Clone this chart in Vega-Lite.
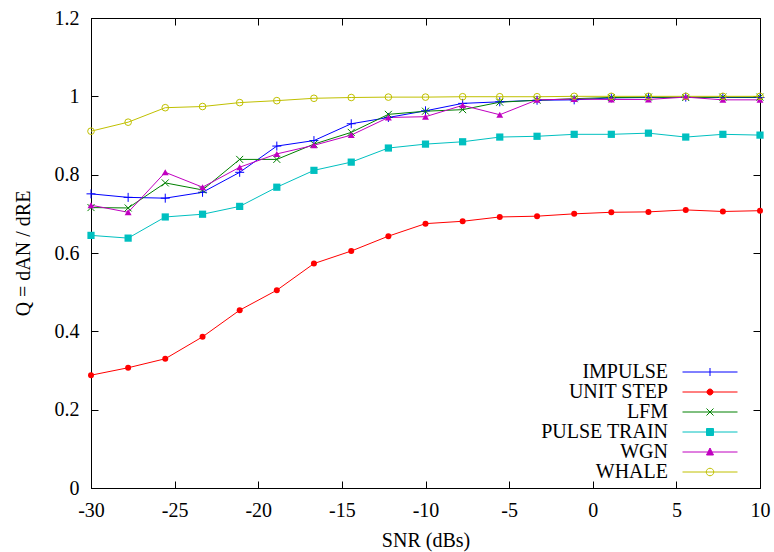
{
  "$schema": "https://vega.github.io/schema/vega-lite/v6.json",
  "width": 669,
  "height": 470,
  "autosize": {"type": "none"},
  "padding": {"left": 91, "top": 18, "right": 14, "bottom": 64},
  "background": "white",
  "config": {
    "font": "Liberation Serif",
    "view": {"stroke": "black", "strokeWidth": 1},
    "axis": {
      "grid": false,
      "domainColor": "black",
      "domainWidth": 1,
      "tickColor": "black",
      "tickWidth": 1,
      "tickSize": -7,
      "labelFlush": false,
      "labelColor": "black",
      "titleColor": "black",
      "labelFont": "Liberation Serif",
      "labelFontSize": 20,
      "titleFont": "Liberation Serif",
      "titleFontSize": 20,
      "titleFontWeight": "normal"
    },
    "legend": {
      "labelFont": "Liberation Serif",
      "labelFontSize": 20,
      "labelColor": "black"
    }
  },
  "data": {
    "values": [
      {"series": "IMPULSE", "snr": -30, "q": 0.751},
      {"series": "IMPULSE", "snr": -27.78, "q": 0.742},
      {"series": "IMPULSE", "snr": -25.56, "q": 0.740},
      {"series": "IMPULSE", "snr": -23.33, "q": 0.755},
      {"series": "IMPULSE", "snr": -21.11, "q": 0.806},
      {"series": "IMPULSE", "snr": -18.89, "q": 0.873},
      {"series": "IMPULSE", "snr": -16.67, "q": 0.887},
      {"series": "IMPULSE", "snr": -14.44, "q": 0.930},
      {"series": "IMPULSE", "snr": -12.22, "q": 0.946},
      {"series": "IMPULSE", "snr": -10, "q": 0.963},
      {"series": "IMPULSE", "snr": -7.78, "q": 0.982},
      {"series": "IMPULSE", "snr": -5.56, "q": 0.986},
      {"series": "IMPULSE", "snr": -3.33, "q": 0.990},
      {"series": "IMPULSE", "snr": -1.11, "q": 0.991},
      {"series": "IMPULSE", "snr": 1.11, "q": 0.996},
      {"series": "IMPULSE", "snr": 3.33, "q": 0.997},
      {"series": "IMPULSE", "snr": 5.56, "q": 0.998},
      {"series": "IMPULSE", "snr": 7.78, "q": 0.997},
      {"series": "IMPULSE", "snr": 10, "q": 0.997},

      {"series": "UNIT STEP", "snr": -30, "q": 0.288},
      {"series": "UNIT STEP", "snr": -27.78, "q": 0.307},
      {"series": "UNIT STEP", "snr": -25.56, "q": 0.330},
      {"series": "UNIT STEP", "snr": -23.33, "q": 0.386},
      {"series": "UNIT STEP", "snr": -21.11, "q": 0.454},
      {"series": "UNIT STEP", "snr": -18.89, "q": 0.505},
      {"series": "UNIT STEP", "snr": -16.67, "q": 0.573},
      {"series": "UNIT STEP", "snr": -14.44, "q": 0.605},
      {"series": "UNIT STEP", "snr": -12.22, "q": 0.643},
      {"series": "UNIT STEP", "snr": -10, "q": 0.675},
      {"series": "UNIT STEP", "snr": -7.78, "q": 0.681},
      {"series": "UNIT STEP", "snr": -5.56, "q": 0.692},
      {"series": "UNIT STEP", "snr": -3.33, "q": 0.694},
      {"series": "UNIT STEP", "snr": -1.11, "q": 0.700},
      {"series": "UNIT STEP", "snr": 1.11, "q": 0.704},
      {"series": "UNIT STEP", "snr": 3.33, "q": 0.705},
      {"series": "UNIT STEP", "snr": 5.56, "q": 0.710},
      {"series": "UNIT STEP", "snr": 7.78, "q": 0.706},
      {"series": "UNIT STEP", "snr": 10, "q": 0.708},

      {"series": "LFM", "snr": -30, "q": 0.716},
      {"series": "LFM", "snr": -27.78, "q": 0.715},
      {"series": "LFM", "snr": -25.56, "q": 0.779},
      {"series": "LFM", "snr": -23.33, "q": 0.761},
      {"series": "LFM", "snr": -21.11, "q": 0.839},
      {"series": "LFM", "snr": -18.89, "q": 0.839},
      {"series": "LFM", "snr": -16.67, "q": 0.878},
      {"series": "LFM", "snr": -14.44, "q": 0.908},
      {"series": "LFM", "snr": -12.22, "q": 0.954},
      {"series": "LFM", "snr": -10, "q": 0.962},
      {"series": "LFM", "snr": -7.78, "q": 0.966},
      {"series": "LFM", "snr": -5.56, "q": 0.985},
      {"series": "LFM", "snr": -3.33, "q": 0.990},
      {"series": "LFM", "snr": -1.11, "q": 0.994},
      {"series": "LFM", "snr": 1.11, "q": 0.997},
      {"series": "LFM", "snr": 3.33, "q": 0.998},
      {"series": "LFM", "snr": 5.56, "q": 0.997},
      {"series": "LFM", "snr": 7.78, "q": 0.998},
      {"series": "LFM", "snr": 10, "q": 0.998},

      {"series": "PULSE TRAIN", "snr": -30, "q": 0.645},
      {"series": "PULSE TRAIN", "snr": -27.78, "q": 0.638},
      {"series": "PULSE TRAIN", "snr": -25.56, "q": 0.692},
      {"series": "PULSE TRAIN", "snr": -23.33, "q": 0.699},
      {"series": "PULSE TRAIN", "snr": -21.11, "q": 0.719},
      {"series": "PULSE TRAIN", "snr": -18.89, "q": 0.768},
      {"series": "PULSE TRAIN", "snr": -16.67, "q": 0.811},
      {"series": "PULSE TRAIN", "snr": -14.44, "q": 0.832},
      {"series": "PULSE TRAIN", "snr": -12.22, "q": 0.868},
      {"series": "PULSE TRAIN", "snr": -10, "q": 0.878},
      {"series": "PULSE TRAIN", "snr": -7.78, "q": 0.884},
      {"series": "PULSE TRAIN", "snr": -5.56, "q": 0.896},
      {"series": "PULSE TRAIN", "snr": -3.33, "q": 0.898},
      {"series": "PULSE TRAIN", "snr": -1.11, "q": 0.903},
      {"series": "PULSE TRAIN", "snr": 1.11, "q": 0.903},
      {"series": "PULSE TRAIN", "snr": 3.33, "q": 0.906},
      {"series": "PULSE TRAIN", "snr": 5.56, "q": 0.896},
      {"series": "PULSE TRAIN", "snr": 7.78, "q": 0.903},
      {"series": "PULSE TRAIN", "snr": 10, "q": 0.901},

      {"series": "WGN", "snr": -30, "q": 0.722},
      {"series": "WGN", "snr": -27.78, "q": 0.704},
      {"series": "WGN", "snr": -25.56, "q": 0.806},
      {"series": "WGN", "snr": -23.33, "q": 0.768},
      {"series": "WGN", "snr": -21.11, "q": 0.819},
      {"series": "WGN", "snr": -18.89, "q": 0.853},
      {"series": "WGN", "snr": -16.67, "q": 0.875},
      {"series": "WGN", "snr": -14.44, "q": 0.901},
      {"series": "WGN", "snr": -12.22, "q": 0.946},
      {"series": "WGN", "snr": -10, "q": 0.948},
      {"series": "WGN", "snr": -7.78, "q": 0.977},
      {"series": "WGN", "snr": -5.56, "q": 0.953},
      {"series": "WGN", "snr": -3.33, "q": 0.991},
      {"series": "WGN", "snr": -1.11, "q": 0.993},
      {"series": "WGN", "snr": 1.11, "q": 0.992},
      {"series": "WGN", "snr": 3.33, "q": 0.992},
      {"series": "WGN", "snr": 5.56, "q": 0.998},
      {"series": "WGN", "snr": 7.78, "q": 0.991},
      {"series": "WGN", "snr": 10, "q": 0.991},

      {"series": "WHALE", "snr": -30, "q": 0.911},
      {"series": "WHALE", "snr": -27.78, "q": 0.934},
      {"series": "WHALE", "snr": -25.56, "q": 0.971},
      {"series": "WHALE", "snr": -23.33, "q": 0.974},
      {"series": "WHALE", "snr": -21.11, "q": 0.984},
      {"series": "WHALE", "snr": -18.89, "q": 0.989},
      {"series": "WHALE", "snr": -16.67, "q": 0.995},
      {"series": "WHALE", "snr": -14.44, "q": 0.997},
      {"series": "WHALE", "snr": -12.22, "q": 0.998},
      {"series": "WHALE", "snr": -10, "q": 0.998},
      {"series": "WHALE", "snr": -7.78, "q": 0.999},
      {"series": "WHALE", "snr": -5.56, "q": 0.999},
      {"series": "WHALE", "snr": -3.33, "q": 0.999},
      {"series": "WHALE", "snr": -1.11, "q": 1.0},
      {"series": "WHALE", "snr": 1.11, "q": 1.0},
      {"series": "WHALE", "snr": 3.33, "q": 1.0},
      {"series": "WHALE", "snr": 5.56, "q": 1.0},
      {"series": "WHALE", "snr": 7.78, "q": 1.0},
      {"series": "WHALE", "snr": 10, "q": 1.0}
    ]
  },
  "layer": [
    {
      "mark": {"type": "line", "strokeWidth": 1},
      "encoding": {
        "x": {
          "field": "snr", "type": "quantitative",
          "scale": {"domain": [-30, 10], "nice": false, "zero": false},
          "axis": {
            "orient": "bottom",
            "values": [-30, -25, -20, -15, -10, -5, 0, 5, 10],
            "labelExpr": "'' + datum.value",
            "labelPadding": 19,
            "title": "SNR (dBs)",
            "titlePadding": 10
          }
        },
        "y": {
          "field": "q", "type": "quantitative",
          "scale": {"domain": [0, 1.2], "nice": false, "zero": true},
          "axis": {
            "orient": "left",
            "values": [0, 0.2, 0.4, 0.6, 0.8, 1, 1.2],
            "labelExpr": "'' + datum.value",
            "labelPadding": 19,
            "title": "Q = dAN / dRE",
            "titlePadding": 21
          }
        },
        "color": {
          "field": "series", "type": "nominal",
          "scale": {
            "domain": ["IMPULSE", "UNIT STEP", "LFM", "PULSE TRAIN", "WGN", "WHALE"],
            "range": ["#0000ff", "#ff0000", "#008000", "#00c0c0", "#c000c0", "#c0c000"]
          },
          "legend": {
            "title": null,
            "orient": "none",
            "legendX": 609,
            "legendY": 344,
            "symbolSize": 64,
            "symbolStrokeWidth": 1,
            "labelAlign": "right",
            "labelOffset": -52,
            "rowPadding": 0,
            "encode": {
              "symbols": {
                "update": {
                  "shape": {"signal": "datum.value === 'IMPULSE' ? 'M-6.875,0H6.875M0,-1V1' : datum.value === 'UNIT STEP' ? 'M-6.875,0H6.875M0.75,0A0.75,0.75 0 1,1 -0.75,0A0.75,0.75 0 1,1 0.75,0Z' : datum.value === 'LFM' ? 'M-6.875,0H6.875M-0.875,-0.875L0.875,0.875M-0.875,0.875L0.875,-0.875' : datum.value === 'PULSE TRAIN' ? 'M-6.875,0H6.875M-0.875,-0.875H0.875V0.875H-0.875Z' : datum.value === 'WGN' ? 'M-6.875,0H6.875M0,-1L0.875,0.75H-0.875Z' : 'M-6.875,0H6.875M0.94,0A0.94,0.94 0 1,1 -0.94,0A0.94,0.94 0 1,1 0.94,0'"},
                  "size": {"value": 64},
                  "strokeWidth": {"value": 1},
                  "stroke": {"signal": "scale('color', datum.value)"},
                  "fill": {"signal": "indexof(['UNIT STEP','PULSE TRAIN','WGN'], datum.value) >= 0 ? scale('color', datum.value) : 'transparent'"}
                }
              }
            }
          }
        }
      }
    },
    {
      "transform": [{"filter": "datum.series === 'IMPULSE'"}],
      "mark": {"type": "point", "shape": "M-1,0H1M0,-1V1", "size": 81, "filled": false, "color": "#0000ff", "strokeWidth": 1, "opacity": 1},
      "encoding": {
        "x": {
          "field": "snr", "type": "quantitative",
          "axis": {
            "orient": "top",
            "values": [-30, -25, -20, -15, -10, -5, 0, 5, 10],
            "labels": false,
            "title": null
          }
        },
        "y": {
          "field": "q", "type": "quantitative",
          "axis": {
            "orient": "right",
            "values": [0, 0.2, 0.4, 0.6, 0.8, 1, 1.2],
            "labels": false,
            "title": null
          }
        }
      }
    },
    {
      "transform": [{"filter": "datum.series === 'UNIT STEP'"}],
      "mark": {"type": "point", "shape": "circle", "size": 36, "filled": true, "color": "#ff0000", "opacity": 1},
      "encoding": {
        "x": {"field": "snr", "type": "quantitative", "axis": null},
        "y": {"field": "q", "type": "quantitative", "axis": null}
      }
    },
    {
      "transform": [{"filter": "datum.series === 'LFM'"}],
      "mark": {"type": "point", "shape": "M-1,-1L1,1M-1,1L1,-1", "size": 49, "filled": false, "color": "#008000", "strokeWidth": 1, "opacity": 1},
      "encoding": {
        "x": {"field": "snr", "type": "quantitative", "axis": null},
        "y": {"field": "q", "type": "quantitative", "axis": null}
      }
    },
    {
      "transform": [{"filter": "datum.series === 'PULSE TRAIN'"}],
      "mark": {"type": "point", "shape": "square", "size": 52, "filled": true, "color": "#00c0c0", "opacity": 1},
      "encoding": {
        "x": {"field": "snr", "type": "quantitative", "axis": null},
        "y": {"field": "q", "type": "quantitative", "axis": null}
      }
    },
    {
      "transform": [{"filter": "datum.series === 'WGN'"}],
      "mark": {"type": "point", "shape": "triangle-up", "size": 48, "filled": true, "color": "#c000c0", "opacity": 1},
      "encoding": {
        "x": {"field": "snr", "type": "quantitative", "axis": null},
        "y": {"field": "q", "type": "quantitative", "axis": null}
      }
    },
    {
      "transform": [{"filter": "datum.series === 'WHALE'"}],
      "mark": {"type": "point", "shape": "circle", "size": 44, "filled": false, "color": "#c0c000", "strokeWidth": 1, "opacity": 1},
      "encoding": {
        "x": {"field": "snr", "type": "quantitative", "axis": null},
        "y": {"field": "q", "type": "quantitative", "axis": null}
      }
    }
  ],
  "resolve": {"axis": {"x": "independent", "y": "independent"}}
}
